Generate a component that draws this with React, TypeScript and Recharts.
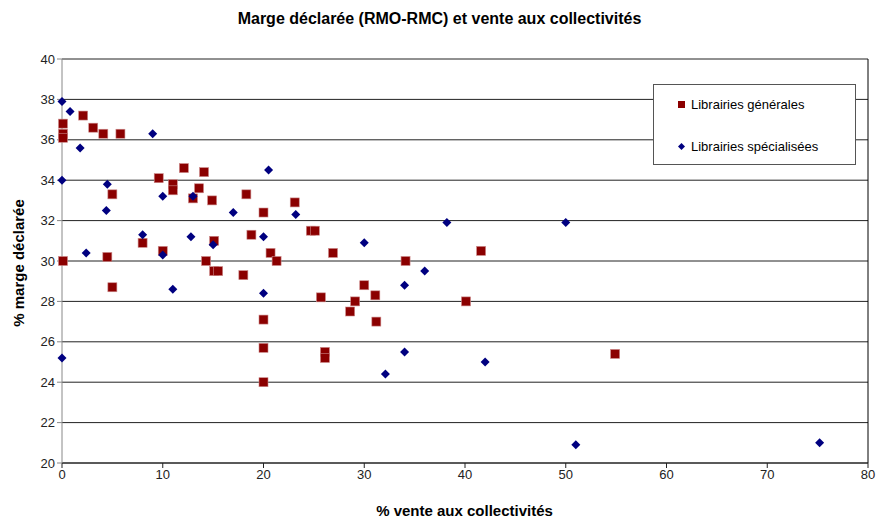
import { ScatterChart, Scatter, XAxis, YAxis, CartesianGrid, ReferenceLine } from 'recharts';

// Librairies générales : [% vente aux collectivités, % marge déclarée]
const generales: [number, number][] = [
  [0.1, 36.8], [0.1, 36.3], [0.1, 36.1], [0.1, 30.0], [2.1, 37.2], [3.1, 36.6],
  [4.1, 36.3], [5.8, 36.3], [4.5, 30.2], [5.0, 33.3], [5.0, 28.7], [8.0, 30.9],
  [9.6, 34.1], [10.0, 30.5], [11.0, 33.8], [11.0, 33.5], [12.1, 34.6], [13.0, 33.1],
  [13.6, 33.6], [14.1, 34.4], [14.9, 33.0], [14.3, 30.0], [15.1, 31.0], [15.1, 29.5],
  [15.5, 29.5], [18.0, 29.3], [18.3, 33.3], [18.8, 31.3], [20.0, 32.4], [20.0, 27.1],
  [20.0, 25.7], [20.0, 24.0], [20.7, 30.4], [21.3, 30.0], [23.1, 32.9], [24.7, 31.5],
  [25.1, 31.5], [25.7, 28.2], [26.1, 25.5], [26.1, 25.2], [26.9, 30.4], [28.6, 27.5],
  [29.1, 28.0], [30.0, 28.8], [31.1, 28.3], [31.2, 27.0], [34.1, 30.0], [40.1, 28.0],
  [41.6, 30.5], [54.9, 25.4],
];

// Librairies spécialisées
const specialisees: [number, number][] = [
  [0, 37.9], [0.8, 37.4], [1.8, 35.6], [0, 34.0], [0, 25.2], [2.4, 30.4],
  [4.5, 33.8], [4.4, 32.5], [8.0, 31.3], [9.0, 36.3], [10.0, 33.2], [10.0, 30.3],
  [11.0, 28.6], [12.8, 31.2], [13.0, 33.2], [15.0, 30.8], [17.0, 32.4], [20.0, 31.2],
  [20.0, 28.4], [20.5, 34.5], [23.2, 32.3], [30.0, 30.9], [32.1, 24.4], [34.0, 28.8],
  [34.0, 25.5], [36.0, 29.5], [38.2, 31.9], [42.0, 25.0], [50.0, 31.9], [51.0, 20.9],
  [75.2, 21.0],
];

const xTicks = [0, 10, 20, 30, 40, 50, 60, 70, 80];
const yTicks = [20, 22, 24, 26, 28, 30, 32, 34, 36, 38, 40];

const RED = '#8b0000';
const BLUE = '#000080';
const FONT = 'Arial, "Liberation Sans", sans-serif';

const toPoints = (rows: [number, number][]) => rows.map(([x, y]) => ({ x, y }));

function SquareDot(props: any) {
  const { cx, cy } = props;
  return <rect x={cx - 4.5} y={cy - 4.5} width={9} height={9} fill={RED} stroke="#c88" strokeWidth={0.6} />;
}

function DiamondDot(props: any) {
  const { cx, cy } = props;
  return <path d={`M${cx},${cy - 4.5}L${cx + 4.5},${cy}L${cx},${cy + 4.5}L${cx - 4.5},${cy}Z`} fill={BLUE} />;
}

function LegendBox() {
  return (
    <div
      style={{
        position: 'absolute',
        left: 653,
        top: 84,
        width: 201,
        height: 79,
        border: '1px solid #555',
        background: '#fff',
        fontFamily: FONT,
        fontSize: 13,
        color: '#000',
      }}
    >
      <div style={{ position: 'absolute', left: 24, top: 12, display: 'flex', alignItems: 'center', whiteSpace: 'nowrap' }}>
        <span style={{ display: 'inline-block', width: 7, height: 7, background: RED, marginRight: 6 }} />
        Librairies générales
      </div>
      <div style={{ position: 'absolute', left: 24, top: 54, display: 'flex', alignItems: 'center', whiteSpace: 'nowrap' }}>
        <svg width={7} height={7} style={{ marginRight: 6 }}>
          <path d="M3.5,0L7,3.5L3.5,7L0,3.5Z" fill={BLUE} />
        </svg>
        Librairies spécialisées
      </div>
    </div>
  );
}

export default function App() {
  return (
    <div style={{ position: 'absolute', left: 0, top: 0, width: 879, height: 519, background: '#fff', fontFamily: FONT }}>
      <div
        style={{
          position: 'absolute',
          top: 10,
          left: 0,
          width: 879,
          textAlign: 'center',
          fontWeight: 'bold',
          fontSize: 16,
          color: '#000',
        }}
      >
        Marge déclarée (RMO-RMC) et vente aux collectivités
      </div>
      <ScatterChart width={879} height={519} margin={{ top: 59, right: 11, bottom: 26, left: 32 }}>
        <CartesianGrid vertical={false} stroke="#222" strokeWidth={1} />
        <XAxis
          type="number"
          dataKey="x"
          domain={[0, 80]}
          ticks={xTicks}
          height={30}
          tickSize={5}
          axisLine={{ stroke: '#222' }}
          tickLine={{ stroke: '#222' }}
          tick={{ fontSize: 13, fill: '#222', fontFamily: FONT }}
        />
        <YAxis
          type="number"
          dataKey="y"
          domain={[20, 40]}
          ticks={yTicks}
          width={30}
          tickSize={5}
          axisLine={{ stroke: '#888' }}
          tickLine={{ stroke: '#888' }}
          tick={{ fontSize: 13, fill: '#222', fontFamily: FONT }}
        />
        <ReferenceLine x={80} stroke="#000" />
        <Scatter name="Librairies générales" data={toPoints(generales)} shape={SquareDot} isAnimationActive={false} />
        <Scatter name="Librairies spécialisées" data={toPoints(specialisees)} shape={DiamondDot} isAnimationActive={false} />
      </ScatterChart>
      <LegendBox />
      <div
        style={{
          position: 'absolute',
          top: 502,
          left: 0,
          width: 879,
          paddingLeft: 50,
          boxSizing: 'border-box',
          textAlign: 'center',
          fontWeight: 'bold',
          fontSize: 15,
          color: '#000',
        }}
      >
        % vente aux collectivités
      </div>
      <div
        style={{
          position: 'absolute',
          left: 18,
          top: 263,
          transform: 'translate(-50%, -50%) rotate(-90deg)',
          whiteSpace: 'nowrap',
          fontWeight: 'bold',
          fontSize: 15,
          color: '#000',
        }}
      >
        % marge déclarée
      </div>
    </div>
  );
}
